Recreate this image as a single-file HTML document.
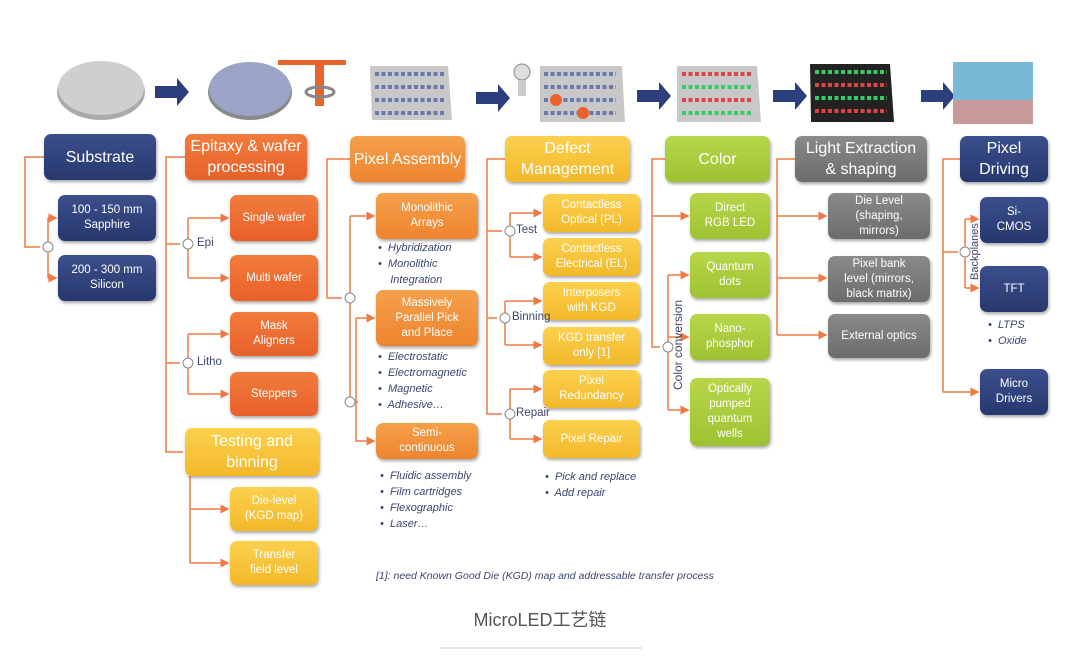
<!DOCTYPE html>
<html><head><meta charset="utf-8"><style>
body{margin:0;width:1080px;height:670px;background:#fff;position:relative;overflow:hidden;font-family:"Liberation Sans","Noto Sans CJK SC",sans-serif}
.b{position:absolute;display:flex;align-items:center;justify-content:center;text-align:center;color:#fff;border-radius:7px;box-shadow:1px 2px 3px rgba(0,0,0,.35);font-size:11.5px;line-height:15px}
.h{font-size:16px;line-height:21px}
.nv{background:linear-gradient(#3b4f8c,#27386e)}
.or{background:linear-gradient(#f27c3c,#e8602a)}
.o2{background:linear-gradient(#f5a04a,#ee8430)}
.ye{background:linear-gradient(#fbd14e,#f3b82a)}
.gr{background:linear-gradient(#b8d64a,#9ec232)}
.gy{background:linear-gradient(#8a8a8a,#6c6c6c)}
.t{position:absolute;font-size:11px;color:#3b4470;font-style:italic;line-height:16px}
.l{position:absolute;font-size:11.5px;color:#3b4470}
svg{position:absolute;left:0;top:0}
</style></head><body>
<svg width="1080" height="670">
<defs><marker id="a" markerWidth="6" markerHeight="6" refX="5" refY="3" orient="auto"><path d="M0,0L6,3L0,6z" fill="#ef7a45"/></marker></defs>
<ellipse cx="101" cy="92" rx="44" ry="28" fill="#aaa"/><ellipse cx="101" cy="88" rx="43" ry="27" fill="#cfcfcf"/>
<g fill="#2c3f7c"><path d="M155,86h22v-8l12,14-12,14v-8h-22z"/><path d="M476,92h22v-8l12,14-12,14v-8h-22z"/><path d="M637,90h22v-8l12,14-12,14v-8h-22z"/><path d="M773,90h22v-8l12,14-12,14v-8h-22z"/><path d="M921,90h22v-8l12,14-12,14v-8h-22z"/></g>
<ellipse cx="250" cy="92" rx="42" ry="28" fill="#888"/><ellipse cx="250" cy="89" rx="41" ry="27" fill="#9ba4c6"/>
<rect x="278" y="60" width="68" height="5" fill="#e8642a"/><rect x="315" y="62" width="9" height="44" fill="#e8642a"/>
<ellipse cx="320" cy="92" rx="14" ry="5" fill="none" stroke="#888" stroke-width="3"/>
<polygon points="370,66 448,66 452,120 372,120" fill="#c8c8c8"/>
<polygon points="540,66 622,66 625,122 540,122" fill="#c8c8c8"/>
<polygon points="677,66 757,66 761,122 677,122" fill="#c8c8c8"/>
<polygon points="810,64 890,64 894,122 811,122" fill="#222"/>
<rect x="953" y="62" width="80" height="62" fill="#7ab8d8"/><rect x="953" y="100" width="80" height="24" fill="#c89a9a"/>
<circle cx="522" cy="72" r="8" fill="#ddd" stroke="#888"/><rect x="518" y="80" width="8" height="16" fill="#ccc"/>
<g stroke-width="4" stroke-dasharray="4 2.5">
<g stroke="#6a78b0"><path d="M375,74h70M375,87h70M375,100h70M375,113h70M544,74h72M544,87h72M544,100h72M544,113h72"/></g>
<g stroke="#d44"><path d="M682,74h70M682,100h70M815,85h72M815,111h72"/></g>
<g stroke="#3c6"><path d="M682,87h70M682,113h70M815,72h72M815,98h72"/></g>
</g>
<circle cx="556" cy="100" r="6" fill="#e8642a"/><circle cx="583" cy="113" r="6" fill="#e8642a"/>
<g stroke="#ef7a45" stroke-width="1.5" fill="none">
<path d="M44,157H25V247H40"/><path d="M48,218V278"/><path d="M48,218H56" marker-end="url(#a)"/><path d="M48,278H56" marker-end="url(#a)"/>
<path d="M185,157H166V452H183"/><path d="M166,244H180"/><path d="M188,218V278"/><path d="M188,218H228" marker-end="url(#a)"/><path d="M188,278H228" marker-end="url(#a)"/>
<path d="M166,363H180"/><path d="M188,334V394"/><path d="M188,334H228" marker-end="url(#a)"/><path d="M188,394H228" marker-end="url(#a)"/>
<path d="M190,476V563"/><path d="M190,509H228" marker-end="url(#a)"/><path d="M190,563H228" marker-end="url(#a)"/>
<path d="M350,159H327V298H342"/><path d="M350,216V402"/><path d="M350,216H374" marker-end="url(#a)"/><path d="M356,318H374" marker-end="url(#a)"/><path d="M356,318V441H374" marker-end="url(#a)"/><path d="M350,402H358"/>
<path d="M505,159H487V414H502"/><path d="M487,231H502"/><path d="M487,318H497"/>
<path d="M510,213V257"/><path d="M510,213H541" marker-end="url(#a)"/><path d="M510,257H541" marker-end="url(#a)"/>
<path d="M505,301V345"/><path d="M505,301H541" marker-end="url(#a)"/><path d="M505,345H541" marker-end="url(#a)"/>
<path d="M510,389V439"/><path d="M510,389H541" marker-end="url(#a)"/><path d="M510,439H541" marker-end="url(#a)"/>
<path d="M665,159H652V347H660"/><path d="M652,216H688" marker-end="url(#a)"/><path d="M668,275V410"/><path d="M668,275H688" marker-end="url(#a)"/><path d="M668,337H688" marker-end="url(#a)"/><path d="M668,410H688" marker-end="url(#a)"/>
<path d="M795,159H777V335"/><path d="M777,216H826" marker-end="url(#a)"/><path d="M777,278H826" marker-end="url(#a)"/><path d="M777,335H826" marker-end="url(#a)"/>
<path d="M960,159H943V392H978" marker-end="url(#a)"/><path d="M943,252H958"/><path d="M965,219V288"/><path d="M965,219H978" marker-end="url(#a)"/><path d="M965,288H978" marker-end="url(#a)"/>
</g>
<g fill="#fff" stroke="#888" stroke-width="1">
<circle cx="48" cy="247" r="5"/><circle cx="188" cy="244" r="5"/><circle cx="188" cy="363" r="5"/><circle cx="350" cy="298" r="5"/><circle cx="350" cy="402" r="5"/>
<circle cx="510" cy="231" r="5"/><circle cx="505" cy="318" r="5"/><circle cx="510" cy="414" r="5"/><circle cx="668" cy="347" r="5"/><circle cx="965" cy="252" r="5"/>
</g>
<text x="682" y="390" transform="rotate(-90 682 390)" font-size="12" fill="#3b4470" font-family="Liberation Sans">Color conversion</text>
<text x="978" y="280" transform="rotate(-90 978 280)" font-size="11" fill="#3b4470" font-family="Liberation Sans">Backplanes</text>
<line x1="440" y1="648" x2="642" y2="648" stroke="#ccc"/>
</svg>
<div class="b nv h" style="left:44px;top:134px;width:112px;height:46px">Substrate</div>
<div class="b nv" style="left:58px;top:195px;width:98px;height:46px">100 - 150 mm<br>Sapphire</div>
<div class="b nv" style="left:58px;top:255px;width:98px;height:46px">200 - 300 mm<br>Silicon</div>
<div class="b or h" style="left:185px;top:134px;width:122px;height:46px">Epitaxy &amp; wafer<br>processing</div>
<div class="b or" style="left:230px;top:195px;width:88px;height:46px">Single wafer</div>
<div class="b or" style="left:230px;top:255px;width:88px;height:46px">Multi wafer</div>
<div class="b or" style="left:230px;top:312px;width:88px;height:44px">Mask<br>Aligners</div>
<div class="b or" style="left:230px;top:372px;width:88px;height:44px">Steppers</div>
<div class="b ye h" style="left:185px;top:428px;width:134px;height:48px">Testing and<br>binning</div>
<div class="b ye" style="left:230px;top:487px;width:88px;height:44px">Die-level<br>(KGD map)</div>
<div class="b ye" style="left:230px;top:541px;width:88px;height:44px">Transfer<br>field level</div>
<div class="l" style="left:197px;top:237px">Epi</div><div class="l" style="left:197px;top:356px">Litho</div>
<div class="b o2 h" style="left:350px;top:136px;width:115px;height:46px">Pixel Assembly</div>
<div class="b o2" style="left:376px;top:193px;width:102px;height:46px">Monolithic<br>Arrays</div>
<div class="t" style="left:378px;top:240px">•&nbsp; Hybridization<br>•&nbsp; Monolithic<br>&nbsp;&nbsp;&nbsp; Integration</div>
<div class="b o2" style="left:376px;top:290px;width:102px;height:56px">Massively<br>Parallel Pick<br>and Place</div>
<div class="t" style="left:378px;top:349px">•&nbsp; Electrostatic<br>•&nbsp; Electromagnetic<br>•&nbsp; Magnetic<br>•&nbsp; Adhesive…</div>
<div class="b o2" style="left:376px;top:423px;width:102px;height:36px">Semi-<br>continuous</div>
<div class="t" style="left:380px;top:468px">•&nbsp; Fluidic assembly<br>•&nbsp; Film cartridges<br>•&nbsp; Flexographic<br>•&nbsp; Laser…</div>
<div class="b ye h" style="left:505px;top:136px;width:125px;height:46px">Defect<br>Management</div>
<div class="b ye" style="left:543px;top:194px;width:97px;height:38px">Contactless<br>Optical (PL)</div>
<div class="b ye" style="left:543px;top:238px;width:97px;height:38px">Contactless<br>Electrical (EL)</div>
<div class="b ye" style="left:543px;top:282px;width:97px;height:38px">Interposers<br>with KGD</div>
<div class="b ye" style="left:543px;top:327px;width:97px;height:38px">KGD transfer<br>only [1]</div>
<div class="b ye" style="left:543px;top:370px;width:97px;height:38px">Pixel<br>Redundancy</div>
<div class="b ye" style="left:543px;top:420px;width:97px;height:38px">Pixel Repair</div>
<div class="l" style="left:516px;top:224px">Test</div><div class="l" style="left:512px;top:311px">Binning</div><div class="l" style="left:516px;top:407px">Repair</div>
<div class="t" style="left:545px;top:469px">•&nbsp; Pick and replace<br>•&nbsp; Add repair</div>
<div class="b gr h" style="left:665px;top:136px;width:105px;height:46px">Color</div>
<div class="b gr" style="left:690px;top:193px;width:80px;height:46px">Direct<br>RGB LED</div>
<div class="b gr" style="left:690px;top:252px;width:80px;height:46px">Quantum<br>dots</div>
<div class="b gr" style="left:690px;top:314px;width:80px;height:46px">Nano-<br>phosphor</div>
<div class="b gr" style="left:690px;top:378px;width:80px;height:68px">Optically<br>pumped<br>quantum<br>wells</div>
<div class="b gy h" style="left:795px;top:136px;width:132px;height:46px">Light Extraction<br>&amp; shaping</div>
<div class="b gy" style="left:828px;top:193px;width:102px;height:46px">Die Level<br>(shaping,<br>mirrors)</div>
<div class="b gy" style="left:828px;top:256px;width:102px;height:46px">Pixel bank<br>level (mirrors,<br>black matrix)</div>
<div class="b gy" style="left:828px;top:314px;width:102px;height:44px">External optics</div>
<div class="b nv h" style="left:960px;top:136px;width:88px;height:46px">Pixel<br>Driving</div>
<div class="b nv" style="left:980px;top:197px;width:68px;height:46px">Si-<br>CMOS</div>
<div class="b nv" style="left:980px;top:266px;width:68px;height:46px">TFT</div>
<div class="t" style="left:988px;top:317px">•&nbsp; LTPS<br>•&nbsp; Oxide</div>
<div class="b nv" style="left:980px;top:369px;width:68px;height:46px">Micro<br>Drivers</div>
<div class="t" style="left:376px;top:568px;font-size:10.5px">[1]: need Known Good Die (KGD) map and addressable transfer process</div>
<div style="position:absolute;left:0;width:1080px;top:606px;text-align:center;font-size:18px;color:#555">MicroLED工艺链</div>
</body></html>
